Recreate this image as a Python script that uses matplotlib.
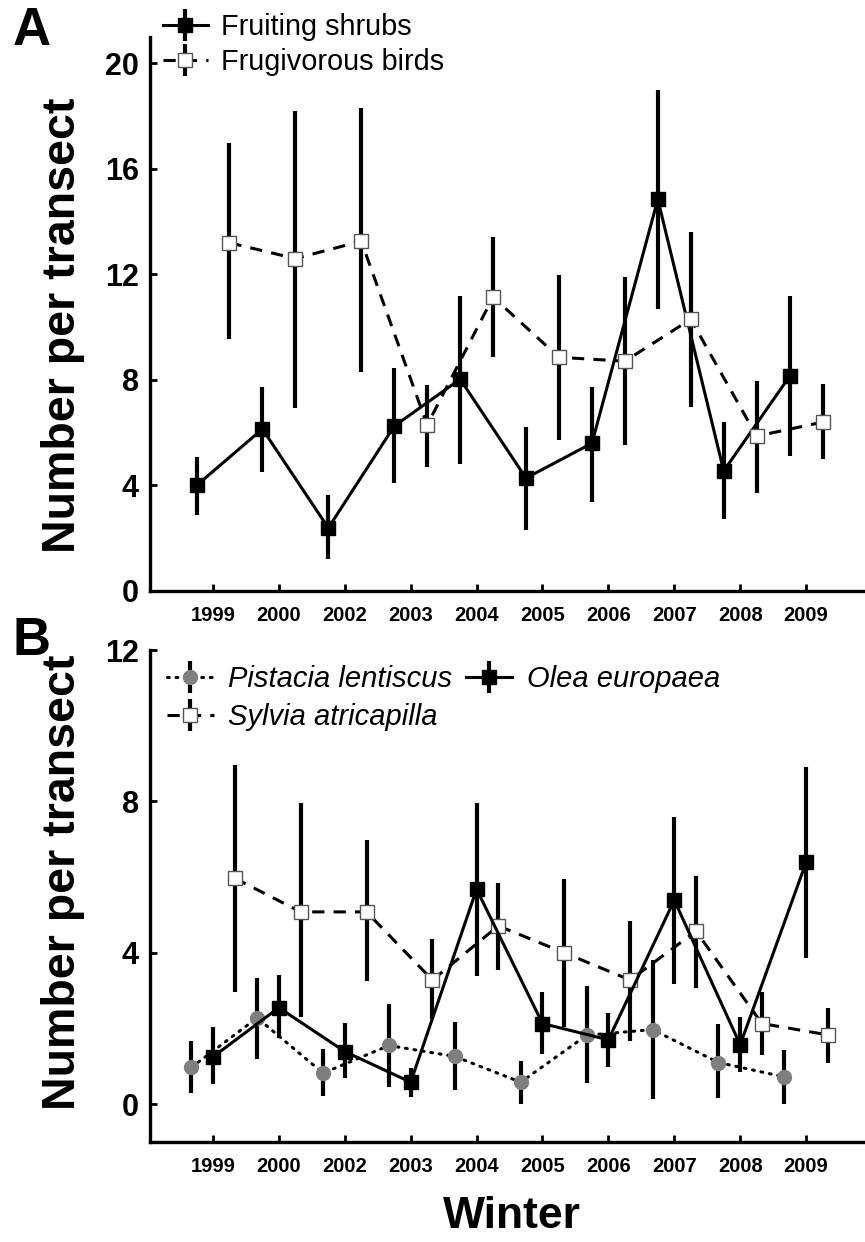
import matplotlib
matplotlib.use("Agg")
import matplotlib.pyplot as plt
from matplotlib.legend_handler import HandlerErrorbar
from matplotlib.container import ErrorbarContainer
import numpy as np

plt.rcParams['font.family'] = ['Liberation Sans', 'DejaVu Sans']

years = ['1999', '2000', '2002', '2003', '2004', '2005', '2006', '2007', '2008', '2009']

# Panel A
shrubs_mean = [4.0, 6.14, 2.39, 6.25, 8.03, 4.28, 5.6, 14.85, 4.55, 8.14]
shrubs_low = [2.88, 4.5, 1.2, 4.09, 4.8, 2.31, 3.37, 10.7, 2.73, 5.11]
shrubs_high = [5.08, 7.73, 3.64, 8.45, 11.2, 6.2, 7.73, 19.0, 6.4, 11.2]

birds_mean = [13.2, 12.6, 13.26, 6.29, 11.14, 8.86, 8.71, 10.3, 5.87, 6.4]
birds_low = [9.55, 6.93, 8.3, 4.7, 8.86, 5.72, 5.53, 6.97, 3.71, 5.0]
birds_high = [17.0, 18.2, 18.3, 7.8, 13.4, 11.97, 11.9, 13.6, 7.95, 7.84]

# Panel B
pistacia_mean = [0.97, 2.28, 0.82, 1.55, 1.26, 0.58, 1.82, 1.97, 1.1, 0.72]
pistacia_low = [0.3, 1.18, 0.22, 0.46, 0.37, 0.0, 0.57, 0.13, 0.16, 0.0]
pistacia_high = [1.66, 3.34, 1.46, 2.64, 2.18, 1.15, 3.12, 3.8, 2.13, 1.43]

olea_mean = [1.25, 2.55, 1.39, 0.58, 5.68, 2.13, 1.7, 5.39, 1.57, 6.39]
olea_low = [0.52, 1.74, 0.68, 0.18, 3.39, 1.32, 0.97, 3.18, 0.86, 3.87]
olea_high = [2.03, 3.4, 2.14, 0.95, 7.95, 2.97, 2.42, 7.6, 2.29, 8.92]

sylvia_mean = [5.97, 5.08, 5.08, 3.28, 4.71, 4.0, 3.28, 4.57, 2.13, 1.83]
sylvia_low = [2.96, 2.29, 3.26, 2.25, 3.55, 2.03, 1.68, 3.08, 1.29, 1.1]
sylvia_high = [8.97, 7.95, 6.97, 4.36, 5.84, 5.95, 4.84, 6.03, 2.97, 2.55]

W, H = 865, 1242
fig = plt.figure(figsize=(W / 100, H / 100), dpi=100)

def px_axes(left, top, right, bottom):
    return fig.add_axes([left / W, 1 - bottom / H, (right - left) / W, (bottom - top) / H])

axA = px_axes(150, 37, 865, 591)
axB = px_axes(150, 650, 865, 1142)

x = np.arange(len(years))
LW = 2.2
ELW = 3.0
DASH = (0, (4, 3))
DOT = (0, (0.6, 2.2))

def err(mean, low, high):
    m = np.array(mean); l = np.array(low); h = np.array(high)
    return [m - l, h - m]

def series(ax, xpos, mean, low, high, ls, marker, mfc, mec, ms, mew, label):
    ax.errorbar(xpos, mean, yerr=err(mean, low, high), color='black', linestyle=ls,
                linewidth=LW, elinewidth=ELW, capsize=0, marker=marker, markersize=ms,
                markerfacecolor=mfc, markeredgecolor=mec, markeredgewidth=mew,
                label=label, dash_capstyle='round' if ls == DOT else 'butt')

# Panel A
series(axA, x - 0.25, shrubs_mean, shrubs_low, shrubs_high, '-', 's', 'black', 'black', 9.5, 1, 'Fruiting shrubs')
series(axA, x + 0.25, birds_mean, birds_low, birds_high, DASH, 's', 'white', '#555555', 10.5, 1.0, 'Frugivorous birds')

# Panel B
series(axB, x - 0.33, pistacia_mean, pistacia_low, pistacia_high, DOT, 'o', '#7f7f7f', '#7f7f7f', 10, 1, 'Pistacia lentiscus')
series(axB, x + 0.33, sylvia_mean, sylvia_low, sylvia_high, DASH, 's', 'white', '#555555', 10.5, 1.0, 'Sylvia atricapilla')
series(axB, x, olea_mean, olea_low, olea_high, '-', 's', 'black', 'black', 9.5, 1, 'Olea europaea')

for ax in (axA, axB):
    ax.set_xlim(-0.956, 9.894)
    ax.set_xticks(x)
    ax.set_xticklabels(years, fontsize=14.5, fontweight='bold')
    ax.spines['top'].set_visible(False)
    ax.spines['right'].set_visible(False)
    ax.spines['left'].set_linewidth(2.4)
    ax.spines['bottom'].set_linewidth(2.4)
    ax.tick_params(axis='both', direction='in', length=5, width=2)
    ax.tick_params(axis='x', pad=11)
    ax.tick_params(axis='y', pad=8, labelsize=22)

axA.set_ylim(0, 21)
axA.set_yticks([0, 4, 8, 12, 16, 20])
axA.set_yticklabels(['0', '4', '8', '12', '16', '20'], fontsize=22, fontweight='bold')
axB.set_ylim(-1, 12)
axB.set_yticks([0, 4, 8, 12])
axB.set_yticklabels(['0', '4', '8', '12'], fontsize=22, fontweight='bold')

hmap = {ErrorbarContainer: HandlerErrorbar(xerr_size=0.5, yerr_size=0.55)}

legA = axA.legend(loc='upper left', bbox_to_anchor=(0.018, 1.043), frameon=False,
                  fontsize=20.8, handlelength=1.55, handletextpad=0.45, labelspacing=0.24,
                  borderpad=0, borderaxespad=0, handler_map=hmap)

handles, labels = axB.get_legend_handles_labels()
legB = axB.legend(handles, labels, loc='upper left', bbox_to_anchor=(0.024, 0.969), ncol=2,
                  frameon=False, prop={'size': 21, 'style': 'italic'},
                  handlelength=1.6, handletextpad=0.5, labelspacing=0.33,
                  columnspacing=0.45, borderpad=0, borderaxespad=0, handler_map=hmap)

fig.text(63 / W, 1 - 325 / H, 'Number per transect', rotation=90, ha='center', va='center',
         fontsize=33.5, fontweight='bold')
fig.text(63 / W, 1 - 882 / H, 'Number per transect', rotation=90, ha='center', va='center',
         fontsize=33.5, fontweight='bold')
fig.text(512 / W, 1 - 1216 / H, 'Winter', ha='center', va='center', fontsize=32, fontweight='bold')
fig.text(32 / W, 1 - 31 / H, 'A', ha='center', va='center', fontsize=38, fontweight='bold')
fig.text(32 / W, 1 - 641 / H, 'B', ha='center', va='center', fontsize=38, fontweight='bold')

fig.savefig('out.png', dpi=100)
